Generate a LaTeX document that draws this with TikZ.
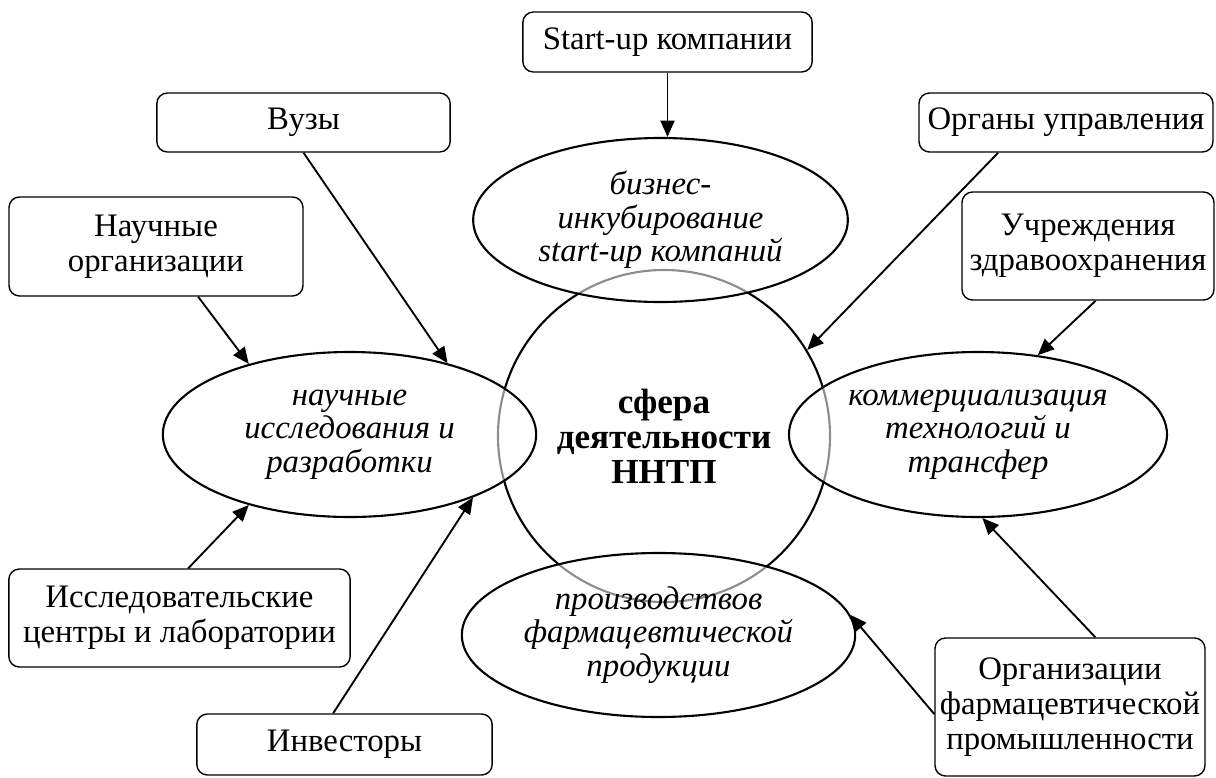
\documentclass[tikz,border=0pt]{standalone}
\usepackage{fontspec}
\setmainfont{Liberation Serif}
\usetikzlibrary{shapes.geometric, arrows.meta}

\begin{document}
\begin{tikzpicture}[x=0.015cm,y=-0.015cm,>={Triangle[length=7pt,width=6pt]},
  block/.style={draw,rounded corners=4.5pt,line width=0.6pt,align=center,inner sep=0pt,font=\fontsize{14}{15}\selectfont},
  area/.style={draw,ellipse,line width=0.9pt,fill=white,fill opacity=0.55,text opacity=1,inner sep=0pt,align=center,font=\itshape\fontsize{14}{14.3}\selectfont},
  link/.style={->,line width=0.8pt}]
  \useasboundingbox (0,0) rectangle (1216,778);
  % центр
  \node[draw,circle,line width=0.9pt,minimum size=4.98cm,inner sep=0pt,align=center,font=\bfseries\fontsize{15}{15}\selectfont] (sfera) at (664,436) {сфера\\деятельности\\ННТП};
  % направления
  \node[area,minimum width=5.62cm,minimum height=2.46cm] (biz) at (660.5,220) {бизнес-\\инкубирование\\start-up компаний};
  \node[area,minimum width=5.6cm,minimum height=2.475cm] (rd) at (349.5,434.5) {научные\\исследования и\\разработки};
  \node[area,minimum width=5.67cm,minimum height=2.475cm] (rc) at (978,434.5) {коммерциализация\\технологий и\\трансфер};
  \node[area,minimum width=5.9cm,minimum height=2.46cm] (pe) at (658.5,635) {производствов\\фармацевтической\\продукции};
  % участники
  \node[block,minimum width=4.34cm,minimum height=0.9cm] (startup) at (667.5,42) {Start-up компании};
  \node[block,minimum width=4.4cm,minimum height=0.885cm] (vuzy) at (303.5,122.5) {Вузы};
  \node[block,minimum width=4.41cm,minimum height=0.885cm] (organy) at (1066,122.5) {Органы управления};
  \node[block,minimum width=4.41cm,minimum height=1.485cm] (nauch) at (156,246.5) {Научные\\организации};
  \node[block,minimum width=3.78cm,minimum height=1.62cm] (uchr) at (1088,246) {Учреждения\\здравоохранения};
  \node[block,minimum width=5.12cm,minimum height=1.47cm] (issl) at (179.5,618) {Исследовательские\\центры и лаборатории};
  \node[block,minimum width=4.43cm,minimum height=0.915cm] (invest) at (344.5,744.5) {Инвесторы};
  \node[block,minimum width=4.05cm,minimum height=2.07cm] (pharm) at (1070,707) {Организации\\фармацевтической\\промышленности};
  % связи
  \draw[link] (startup.south) -- (startup.south |- biz.north);
  \draw[link] (vuzy.south) -- (rd.36);
  \draw[link] (nauch.-50) -- (rd.145);
  \draw[link] (issl.80) -- (rd.215);
  \draw[link] (invest.110) -- (rd.-27);
  \draw[link] (organy.204) -- (sfera.31);
  \draw[link] (uchr.-82) -- (rc.53);
  \draw[link] (pharm.70) -- (rc.-87);
  \draw[link] (pharm.183) -- (pe.6);
\end{tikzpicture}
\end{document}
